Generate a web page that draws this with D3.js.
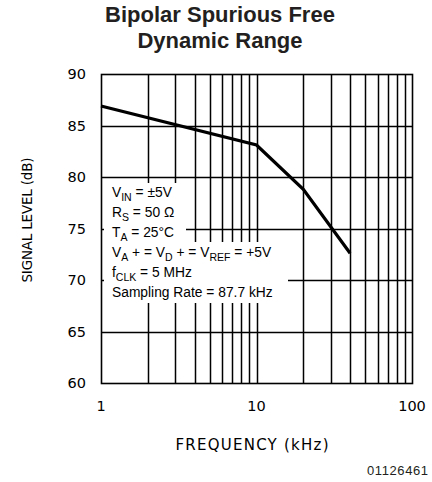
<!DOCTYPE html>
<html><head><meta charset="utf-8">
<script src="https://cdn.jsdelivr.net/npm/d3@7"></script>
<style>body{margin:0;background:#fff}svg{display:block}</style>
</head><body>
<script>
const freq = [1, 10, 20, 40];
const level = [86.9, 83.1, 78.8, 72.6];
const yTicks = [60, 65, 70, 75, 80, 85, 90];
const xTicks = [1, 10, 100];
const xMinor = [2,3,4,5,6,7,8,9,10,20,30,40,50,60,70,80,90];
const notes = [
  [["V",""],["IN","sub"],[" = ±5V",""]],
  [["R",""],["S","sub"],[" = 50 Ω",""]],
  [["T",""],["A","sub"],[" = 25°C",""]],
  [["V",""],["A","sub"],[" + = V",""],["D","sub"],[" + = V",""],["REF","sub"],[" = +5V",""]],
  [["f",""],["CLK","sub"],[" = 5 MHz",""]],
  [["Sampling Rate = 87.7 kHz",""]]
];

const W = 432, H = 482;
const L = 101, R = 412, T = 74, B = 383;
const svg = d3.select("body").append("svg").attr("width", W).attr("height", H);
const x = d3.scaleLog().domain([1, 100]).range([L, R]);
const y = d3.scaleLinear().domain([60, 90]).range([B, T]);
const lab = "'DejaVu Sans',sans-serif";
const arial = "'Liberation Sans',Arial,sans-serif";

// title
svg.append("text").attr("x", 220).attr("y", 22).attr("text-anchor", "middle")
  .attr("font-family", arial).attr("font-weight", "bold")
  .attr("font-size", 22).attr("fill", "#231f20").text("Bipolar Spurious Free");
svg.append("text").attr("x", 220).attr("y", 48).attr("text-anchor", "middle")
  .attr("font-family", arial).attr("font-weight", "bold")
  .attr("font-size", 22).attr("fill", "#231f20").text("Dynamic Range");

// grid
const g = svg.append("g").attr("stroke", "#000").attr("stroke-width", 1.5);
g.selectAll("line.v").data(xMinor).join("line")
  .attr("x1", d => Math.round(x(d)) + 0.5).attr("x2", d => Math.round(x(d)) + 0.5).attr("y1", T).attr("y2", B);
g.selectAll("line.h").data(yTicks.slice(1, -1)).join("line")
  .attr("x1", L).attr("x2", R).attr("y1", d => Math.round(y(d)) + 0.5).attr("y2", d => Math.round(y(d)) + 0.5);

// mask for notes
svg.append("rect").attr("x", 104).attr("y", 183).attr("width", 82).attr("height", 60).attr("fill", "#fff");
svg.append("rect").attr("x", 104).attr("y", 242).attr("width", 184).attr("height", 61).attr("fill", "#fff");

// frame
svg.append("rect").attr("x", L + 0.5).attr("y", T + 0.5).attr("width", R - L).attr("height", B - T)
  .attr("fill", "none").attr("stroke", "#000").attr("stroke-width", 1.6);

// data line
svg.append("path").datum(freq.map((f, i) => [f, level[i]]))
  .attr("d", d3.line().x(d => x(d[0])).y(d => y(d[1])))
  .attr("fill", "none").attr("stroke", "#000").attr("stroke-width", 3.2);

// y tick labels
svg.selectAll("text.yt").data(yTicks).join("text")
  .attr("x", 86).attr("y", d => y(d) + 5).attr("text-anchor", "end")
  .attr("font-family", lab).attr("font-size", 14.5).attr("fill", "#000").text(d => d);
// x tick labels
svg.selectAll("text.xt").data(xTicks).join("text")
  .attr("x", d => x(d)).attr("y", 411).attr("text-anchor", "middle")
  .attr("font-family", lab).attr("font-size", 14.5).attr("fill", "#000").text(d => d);

// axis titles
svg.append("text").attr("x", 252).attr("y", 450).attr("text-anchor", "middle")
  .attr("font-family", lab).attr("font-size", 15).attr("textLength", 153).attr("lengthAdjust", "spacing")
  .text("FREQUENCY (kHz)");
svg.append("text").attr("transform", "translate(32,220) rotate(-90)").attr("text-anchor", "middle")
  .attr("font-family", lab).attr("font-size", 13.5).attr("textLength", 125).attr("lengthAdjust", "spacing")
  .text("SIGNAL LEVEL (dB)");
svg.append("text").attr("x", 428).attr("y", 475).attr("text-anchor", "end")
  .attr("font-family", arial).attr("font-size", 13).attr("fill", "#231f20")
  .attr("textLength", 61).text("01126461");

// notes
notes.forEach((parts, i) => {
  const t = svg.append("text").attr("x", 112).attr("y", 197 + i * 20)
    .attr("font-family", arial).attr("font-size", 13.8).attr("fill", "#000");
  let off = 0;
  parts.forEach(([s, k]) => {
    const ts = t.append("tspan").text(s);
    if (k === "sub") { ts.attr("font-size", 10.5).attr("dy", 4 - off); off = 4; }
    else { ts.attr("dy", -off); off = 0; }
  });
});
</script>
</body></html>
